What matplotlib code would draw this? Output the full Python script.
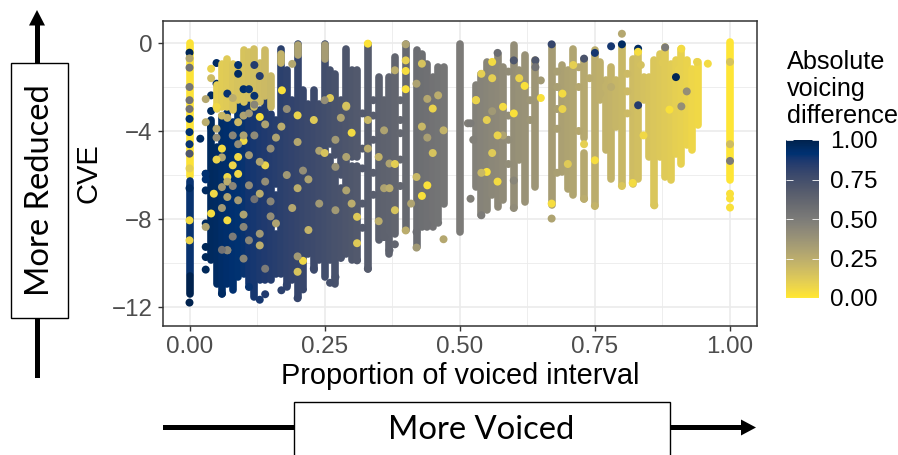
import matplotlib
matplotlib.use("Agg")
import matplotlib.pyplot as plt
from matplotlib.patches import Rectangle, Polygon
from matplotlib.cm import ScalarMappable
from matplotlib.colors import Normalize

plt.rcParams['font.family'] = ['Liberation Sans', 'DejaVu Sans']

W, H = 898, 455

# dense runs of points: x, top of run, bottom of run, voicing difference
main_x = [0.04,0.05,0.06,0.07,0.08,0.09,0.10,0.11,0.12,0.13,0.14,0.15,0.16,0.16,0.16,0.17,0.18,0.19,0.20,0.21,
          0.22,0.23,0.24,0.25,0.26,0.26,0.27,0.27,0.28,0.28,0.29,0.30,0.30,0.31,0.31,0.33,0.35,0.36,0.37,0.38,0.40,0.42,0.43,
          0.44,0.45,0.46,0.47,0.50,
          0.53,0.54,0.55,0.56,0.57,0.58,0.60,0.61,0.62,0.64,0.67,0.69,0.70,0.71,0.73,0.73,0.75,0.76,0.77,0.78,
          0.79,0.80,0.82,0.83,0.84,0.85,0.86,0.87,0.88,0.89,0.90,0.91,0.92,0.93,0.94]
main_top = [-3.5,-4.73,-3.3,-3.2,-3.6,-2.6,-2.9,-2.6,-2.8,-3.06,-1.9,-3.21,-3.52,-6.92,-8.67,-0.26,-1.24,-2.61,-0.03,-2.15,
            -2.76,-2.15,-2.76,-0.03,-1.24,-5.2,-1.39,-5.9,-2.61,-6.6,-0.26,-1.24,-5.6,-1.24,-5.6,-0.03,-1.55,-2.61,-1.55,-0.64,-0.03,-0.33,-0.48,
            -0.94,-1.55,-1.09,-1.09,-0.03,
            -1.92,-1.39,-0.86,-1.09,-0.48,-1.09,-0.11,-1.24,-0.56,-0.79,-0.11,-1.02,-1.24,-0.26,-0.71,-5.0,-0.33,-0.86,-1.70,-1.09,
            -1.70,-0.11,-0.71,-0.26,-1.55,-1.55,-0.79,-0.48,-0.18,-0.94,-0.79,-0.26,-0.79,-1.17,-0.86]
main_bot = [-9.88,-10.94,-11.39,-10.94,-11.24,-10.64,-10.48,-10.94,-11.55,-10.79,-10.79,-10.79,-6.4,-8.2,-10.48,-10.48,-11.09,-10.79,-11.55,-11.09,
            -9.58,-10.33,-9.88,-10.64,-4.6,-9.88,-5.1,-10.94,-6.0,-9.73,-9.58,-5.2,-9.88,-5.2,-9.88,-10.26,-8.97,-8.82,-9.58,-8.67,-8.52,-9.27,-8.36,
            -8.36,-8.36,-8.06,-7.30,-8.59,
            -6.55,-7.83,-7.61,-6.92,-7.45,-7.15,-7.45,-5.33,-7.23,-6.55,-7.38,-5.86,-6.62,-6.92,-4.3,-7.08,-7.38,-2.61,-4.88,-6.17,
            -3.82,-6.47,-6.39,-6.17,-2.61,-5.18,-7.38,-5.18,-6.09,-6.24,-5.03,-5.48,-4.65,-4.88,-3.74]
main_diff = [0.96,0.95,0.94,0.93,0.92,0.91,0.90,0.89,0.88,0.87,0.86,0.85,0.84,0.84,0.84,0.83,0.82,0.81,0.80,0.79,
             0.78,0.77,0.76,0.75,0.74,0.74,0.73,0.73,0.72,0.72,0.71,0.70,0.70,0.69,0.69,0.67,0.65,0.64,0.63,0.62,0.60,0.58,0.57,
             0.56,0.55,0.54,0.53,0.50,
             0.47,0.46,0.45,0.44,0.43,0.42,0.40,0.39,0.38,0.36,0.33,0.31,0.30,0.29,0.27,0.27,0.25,0.24,0.23,0.22,
             0.21,0.20,0.18,0.17,0.16,0.15,0.14,0.13,0.12,0.11,0.10,0.09,0.08,0.07,0.06]

edge_x = [0.00,0.00,0.00,1.00,
          0.05,0.06,0.07,0.08,0.09,0.10,0.11,0.12,0.13,0.14,0.15,0.17,0.20,0.25]
edge_top = [0.0,-6.25,-10.6,0.05,
            -1.9,-0.94,-0.71,-0.94,-1.3,-0.33,-0.41,-0.26,-0.9,-0.33,-1.5,-0.48,-0.11,-0.11]
edge_bot = [-6.05,-10.5,-11.39,-6.24,
            -3.0,-2.91,-2.91,-3.06,-2.6,-2.7,-2.5,-2.91,-2.7,-2.4,-2.9,-0.9,-0.56,-0.71]
edge_diff = [0.02,0.90,1.00,0.01,
             0.10,0.11,0.12,0.14,0.15,0.15,0.16,0.17,0.18,0.19,0.20,0.22,0.30,0.33]

# single points that stand out from the runs
pt_x = [0.00,0.00,0.00,0.00,0.00,0.00,0.00,0.00,0.00,0.00,0.00,0.00,0.00,0.00,0.00,
        0.171,0.40,0.40,0.43,0.44,0.30,0.33,0.20,0.13,0.06,0.07,0.10,0.14,0.08,0.09,0.04,0.03,0.02,0.03,
        0.11,0.09,0.07,0.06,0.13,0.10,0.15,0.07,0.11,0.045,0.03,0.04,0.07,0.13,0.07,0.14,0.20,0.29,0.29,0.27,
        0.27,0.22,0.31,0.38,0.40,0.42,0.47,0.36,0.35,0.37,0.47,0.45,0.42,0.44,0.46,0.42,0.38,0.40,0.40,0.43,
        0.04,0.07,0.05,0.10,0.12,0.09,0.33,0.36,0.44,0.03,0.03,0.21,0.29,0.31,0.19,
        0.80,0.78,0.80,0.83,0.75,0.73,0.67,0.60,0.64,0.57,0.83,0.90,0.88,0.91,0.959,0.939,0.83,0.75,0.67,0.67,
        0.65,0.60,0.55,0.62,0.56,1.00,1.00,1.00,0.888,0.92,0.91,0.82,0.86,0.80,0.75,0.73,0.60,0.52,0.54,0.52,
        0.53,0.54,0.56,0.78,1.00,1.00,1.00,0.58,0.60,0.69,0.73,0.84]
pt_y = [-0.44,-1.12,-2.0,-2.6,-3.45,-4.05,-4.6,-5.03,-6.6,-8.06,-8.97,-0.7,-3.0,-5.7,-11.8,
        -2.15,-1.27,-2.10,-6.95,-6.47,-4.08,-0.03,-3.29,-3.36,-4.80,-6.09,-4.45,-5.56,-5.56,-5.18,-1.17,-3.6,-4.35,-5.95,
        -6.47,-7.15,-7.0,-6.55,-6.85,-8.36,-7.88,-9.42,-8.97,-6.85,-8.36,-7.75,-8.06,-8.67,-9.42,-10.26,-4.5,-2.9,-5.18,-5.63,
        -7.6,-8.5,-9.1,-7.6,-8.52,-9.3,-8.92,-3.97,-5.18,-5.48,-3.97,-2.98,-1.85,-2.54,-2.38,-6.09,-1.24,-0.79,-0.06,-0.94,
        -1.6,-3.4,-3.9,-4.2,-2.8,-5.95,-4.8,-6.6,-4.3,-2.55,-6.2,-9.9,-2.85,-7.9,-0.95,
        0.42,-0.15,-0.06,-0.26,-0.45,-0.71,-0.06,-0.79,-0.79,-0.45,-2.83,-1.55,-0.20,-0.26,-0.94,-0.86,-0.40,-5.33,-7.30,-7.98,
        -2.50,-3.20,-5.86,-1.95,-0.86,-5.36,-0.86,-4.60,-3.03,-2.20,-2.88,-6.36,-7.38,-6.50,-7.41,-7.08,-7.50,-7.08,-7.83,-3.65,
        -2.6,-1.4,-3.1,-2.0,-6.85,-7.07,-7.48,-4.2,-6.25,-2.3,-4.6,-4.2]
pt_diff = [0.98,0.55,0.52,0.55,0.92,0.92,0.90,0.70,0.95,0.05,0.08,0.30,0.55,0.10,1.00,
           0.03,0.04,0.03,0.03,0.03,0.05,0.02,0.08,0.03,0.05,0.06,0.05,0.08,0.07,0.06,0.08,0.25,0.95,0.92,
           0.42,0.35,0.30,0.35,0.25,0.45,0.40,0.45,0.45,0.06,0.30,0.04,0.05,0.35,0.45,0.50,0.28,0.22,0.30,0.38,
           0.35,0.22,0.12,0.15,0.25,0.35,0.28,0.30,0.22,0.30,0.22,0.08,0.30,0.28,0.25,0.20,0.25,0.10,0.30,0.15,
           0.18,0.22,0.28,0.30,0.45,0.06,0.25,0.30,0.32,0.28,0.92,0.06,0.15,0.12,0.28,
           0.28,0.88,0.95,0.95,0.88,0.72,0.80,0.70,0.70,0.58,0.85,0.98,0.50,0.05,0.05,0.08,0.04,0.04,0.04,0.30,
           0.03,0.03,0.03,0.03,0.05,0.50,0.15,0.18,0.03,0.40,0.40,0.05,0.14,0.14,0.22,0.25,0.42,0.48,0.50,0.50,
           0.05,0.10,0.35,0.25,0.03,0.03,0.03,0.30,0.45,0.05,0.10,0.06]

# scattered points along the fringes of the cloud
fringe_x = [0.03,0.03,0.03,0.03,0.03,0.03,0.06,0.11,0.13,0.14,0.17,0.18,0.20,0.21,0.23,0.26,0.27,0.28,0.31,0.33,
            0.37,0.38,0.36,0.42,0.44,0.46,0.05,0.05,0.04,0.04,0.04,0.09,0.10,0.12,
            0.32,0.32,0.32,0.32,0.32,0.34,0.34,0.34,0.34,0.34,0.39,0.39,0.39,0.39,0.39,
            0.59,0.59,0.59,0.59,0.63,0.63,0.65,0.68,0.68,0.68,0.68,0.68,0.72,0.72,0.72,0.74,
            0.76,0.76,0.81,0.81,0.81,0.835,0.875,0.905,0.525,0.515]
fringe_y = [-5.94,-6.7,-8.2,-9.27,-9.73,-10.3,-11.39,-11.09,-11.67,-11.42,-11.24,-11.0,-11.6,-11.2,-10.26,-10.9,-10.64,-9.77,-9.88,-10.26,
            -9.42,-9.15,-8.82,-8.59,-8.24,-8.17,-0.91,-1.85,-2.38,-3.09,-3.85,-1.1,-1.3,-1.6,
            -3.2,-4.8,-5.7,-7.3,-8.4,-2.6,-3.3,-4.4,-5.9,-6.9,-2.6,-3.5,-4.1,-5.3,-6.5,
            -1.3,-3.3,-4.4,-5.5,-2.6,-3.5,-1.7,-1.3,-2.0,-3.0,-3.9,-5.9,-1.1,-2.0,-4.0,-1.6,
            -1.7,-2.3,-1.4,-2.2,-3.2,-1.0,-0.9,-1.2,-4.4,-3.65]
fringe_diff = [0.97,0.96,0.96,0.97,0.97,0.97,0.95,0.90,0.88,0.86,0.83,0.82,0.80,0.79,0.77,0.74,0.73,0.72,0.69,0.67,
               0.63,0.62,0.64,0.58,0.56,0.54,0.95,0.95,0.96,0.96,0.96,0.90,0.90,0.88,
               0.68,0.68,0.68,0.68,0.68,0.66,0.66,0.66,0.66,0.66,0.61,0.61,0.61,0.61,0.61,
               0.41,0.41,0.41,0.41,0.37,0.37,0.35,0.32,0.32,0.32,0.32,0.32,0.28,0.28,0.28,0.26,
               0.24,0.24,0.19,0.19,0.19,0.16,0.12,0.09,0.48,0.48]

# mottling: points of other colours lying on top of the dense cloud
speck_x = [0.09,0.10,0.07,0.11,0.09,0.12,0.12,0.05,0.06,0.08,0.10,0.13,
           0.05,0.06,0.08,0.09,0.11,0.12,0.14,0.15,0.05,0.07,0.09,0.11,0.13,0.15,0.06,0.08,0.10,0.12,0.14,
           0.06,0.08,0.10,0.13,0.16,0.18,0.19,0.21,0.23,0.24,0.17,0.20,0.22,0.25,0.16,0.18,0.20,0.24,0.26,
           0.28,0.30,0.27,0.29,0.33,0.35,0.38,0.37,0.43,0.45,0.41,0.25,0.20,
           0.55,0.56,0.57,0.54,0.58,0.53,0.56,0.57,0.61,0.64,0.69,0.70,0.71]
speck_y = [-1.4,-2.1,-2.3,-2.1,-1.0,-2.4,-1.0,-2.9,-3.3,-2.5,-3.3,-1.5,
           -4.3,-5.2,-4.2,-3.6,-3.2,-4.2,-3.7,-4.8,-5.3,-6.3,-4.6,-5.1,-5.4,-7.2,-7.5,-6.5,-7.8,-7.1,-6.3,
           -9.4,-8.8,-9.8,-9.2,-8.2,-6.0,-7.5,-5.8,-3.5,-4.9,-3.8,-9.7,-6.2,-5.0,-4.3,-3.0,-6.6,-7.3,-2.5,
           -3.4,-7.3,-4.4,-6.7,-3.5,-8.1,-5.5,-6.6,-3.8,-5.0,-7.3,-2.6,-10.4,
           -3.5,-5.0,-4.2,-5.9,-2.9,-2.6,-1.6,-6.3,-1.6,-1.1,-3.0,-5.5,-1.0]
speck_diff = [0.95,0.93,0.90,0.90,0.92,0.90,0.85,0.06,0.20,0.25,0.30,0.85,
              0.40,0.30,0.45,0.20,0.35,0.42,0.30,0.40,0.08,0.25,0.40,0.35,0.30,0.45,0.35,0.45,0.30,0.55,0.40,
              0.55,0.50,0.45,0.25,0.30,0.35,0.28,0.40,0.12,0.30,0.25,0.35,0.30,0.15,0.30,0.40,0.25,0.35,0.12,
              0.30,0.25,0.35,0.30,0.20,0.25,0.10,0.25,0.20,0.15,0.30,0.40,0.15,
              0.10,0.12,0.08,0.20,0.05,0.08,0.10,0.05,0.08,0.55,0.08,0.12,0.10]

x_ticks = [0.00,0.25,0.50,0.75,1.00]
x_labels = ['0.00','0.25','0.50','0.75','1.00']
y_ticks = [0,-4,-8,-12]
y_labels = ['0','\u22124','\u22128','\u221212']
cb_ticks = [0.00,0.25,0.50,0.75,1.00]

fig = plt.figure(figsize=(W/100, H/100), dpi=100, facecolor='white')

def box(l, t, r, b):
    return [l/W, 1-b/H, (r-l)/W, (b-t)/H]

ax = fig.add_axes(box(163, 21, 757, 326))
ax.set_xlim((163-189.5)/540.5, (757-189.5)/540.5)
ax.set_ylim((43-326)/22, (43-21)/22)

norm = Normalize(0, 1)
cmap = plt.get_cmap('cividis_r')
LW = 5.5
ax.vlines(main_x, main_bot, main_top, colors=cmap(norm(main_diff)), linewidth=LW,
          capstyle='round', zorder=3)
ax.scatter(fringe_x, fringe_y, c=fringe_diff, cmap=cmap, norm=norm, s=33, linewidths=0, zorder=3.2)
ax.vlines(edge_x, edge_bot, edge_top, colors=cmap(norm(edge_diff)), linewidth=LW,
          capstyle='round', zorder=3.5)
ax.scatter(pt_x, pt_y, c=pt_diff, cmap=cmap, norm=norm, s=33, linewidths=0, zorder=4)
ax.scatter(speck_x, speck_y, c=speck_diff, cmap=cmap, norm=norm, s=33, linewidths=0, zorder=4.1)

ax.set_xticks(x_ticks, x_labels)
ax.set_yticks(y_ticks, y_labels)
ax.set_xticks([0.125,0.375,0.625,0.875], minor=True)
ax.set_yticks([-2,-6,-10], minor=True)
ax.grid(True, which='major', color='#EBEBEB', linewidth=1.2, zorder=0)
ax.grid(True, which='minor', color='#EBEBEB', linewidth=0.6, zorder=0)
ax.set_axisbelow(True)
ax.tick_params(which='minor', length=0)
ax.tick_params(which='major', length=3.6, width=1.0, color='#333333',
               labelcolor='#4D4D4D', labelsize=17.4, pad=3.5)
ax.tick_params(axis='y', pad=4)
for s in ax.spines.values():
    s.set_color('#333333')
    s.set_linewidth(1.1)
ax.set_xlabel('Proportion of voiced interval', fontsize=20.8, color='black')
ax.set_ylabel('CVE', fontsize=21, color='black')
ax.xaxis.set_label_coords((460-163)/(757-163), 1-(376-21)/(326-21), transform=ax.transAxes)
ax.xaxis.label.set_va('center')
ax.yaxis.set_label_coords((89-163)/(757-163), 1-(173-21)/(326-21), transform=ax.transAxes)
ax.yaxis.label.set_va('center')

# colour bar
cax = fig.add_axes(box(786, 140, 819, 298))
cb = fig.colorbar(ScalarMappable(norm=norm, cmap=cmap), cax=cax)
cb.outline.set_visible(False)
cb.set_ticks(cb_ticks, labels=['0.00','0.25','0.50','0.75','1.00'])
cax.tick_params(left=True, right=True, direction='in', length=5, width=0.6, color='white',
                labelsize=17.6, labelcolor='black', pad=8)
fig.text(787/W, 1-62/H, 'Absolute', fontsize=18.2, va='center', ha='left')
fig.text(787/W, 1-89/H, 'voicing', fontsize=18.2, va='center', ha='left')
fig.text(787/W, 1-116/H, 'difference', fontsize=18.2, va='center', ha='left')

# overlay in pixel coordinates for hand-drawn annotations
ov = fig.add_axes([0, 0, 1, 1], facecolor='none')
ov.set_xlim(0, W); ov.set_ylim(H, 0); ov.axis('off')
ov.add_patch(Rectangle((34.5, 22), 5, 356, color='black', lw=0))
ov.add_patch(Polygon([[29, 25.5], [37, 10], [45, 25.5]], color='black', lw=0))
ov.add_patch(Rectangle((11, 63), 57, 255, fc='white', ec='black', lw=1.0, zorder=3))
ov.text(40, 190, 'More Reduced', rotation=90, fontsize=23.6, family='Lato', ha='center', va='center', zorder=4)
ov.add_patch(Rectangle((163, 425), 582, 5, color='black', lw=0))
ov.add_patch(Polygon([[741, 419.5], [756, 427.5], [741, 435.5]], color='black', lw=0))
ov.add_patch(Rectangle((293.5, 402), 376, 60, fc='white', ec='black', lw=1.0, zorder=3))
ov.text(481, 430, 'More Voiced', fontsize=23.6, family='Lato', ha='center', va='center', zorder=4)

fig.savefig('out.png', dpi=100, facecolor='white')
